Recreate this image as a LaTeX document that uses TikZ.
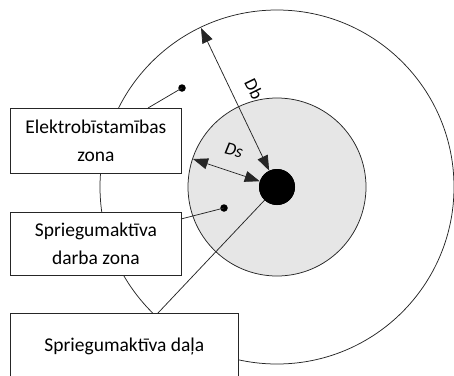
\documentclass[tikz,border=0pt]{standalone}
\usepackage{fontspec}
\setmainfont{Carlito}
\usetikzlibrary{arrows.meta}
\definecolor{zonegray}{HTML}{E6E6E6}
\definecolor{linegray}{HTML}{262626}
\tikzset{
  ln/.style={draw=linegray, line width=0.75pt},
  labelbox/.style={ln, fill=white, inner sep=0pt, align=center,
    font=\fontsize{19.5}{27.3}\selectfont},
  dimarrow/.style={ln, {Triangle[length=15pt,width=11pt]}-{Triangle[length=15pt,width=11pt]}},
  smalldot/.style={circle, fill=black, inner sep=0pt, minimum size=7.5pt},
  dimlabel/.style={font=\fontsize{18}{20}\selectfont, inner sep=0pt}
}
\begin{document}
\begin{tikzpicture}[x=1pt,y=-1pt]
\useasboundingbox (0,0) rectangle (454,375);
\clip (0,0) rectangle (454,375);
\coordinate (c) at (277,187);
% outer zone
\draw[ln] (c) circle[radius=177];
% Db label (partly under inner zone)
\node[dimlabel, rotate=-64] (db) at (254,89) {Db};
% inner zone
\draw[ln, fill=zonegray] (c) circle[radius=89];
% live part
\node[circle, fill=black, inner sep=0pt, minimum size=36pt] (live) at (c) {};
% boxes
\node[labelbox, anchor=north west, minimum width=171pt, minimum height=65pt] (b1) at (10,108) {Elektrobīstamības\\zona};
\node[labelbox, anchor=north west, minimum width=171pt, minimum height=63pt] (b2) at (10,212) {Spriegumaktīva\\darba zona};
\node[labelbox, anchor=north west, minimum width=228pt, minimum height=67pt] (b3) at (10,313) {Spriegumaktīva daļa};
% leader dots
\node[smalldot] (d1) at (182,88) {};
\node[smalldot] (d2) at (224,208) {};
\coordinate (b1t) at (148,108);
\coordinate (b2r) at (181,219);
\coordinate (b3t) at (158,313);
\draw[ln] (d1.center) -- (b1t);
\draw[ln] (d2.center) -- (b2r);
\draw[ln] (live.center) -- (b3t);
\node[circle, fill=black, inner sep=0pt, minimum size=36pt] at (c) {};
% dimension arrows
\coordinate (dbo) at (201,28);
\coordinate (dsi) at (193,159);
\draw[dimarrow] (dbo) -- (live);
\draw[dimarrow] (dsi) -- (live);
\node[dimlabel, rotate=-15] (ds) at (234,150) {\itshape Ds};
\end{tikzpicture}
\end{document}
